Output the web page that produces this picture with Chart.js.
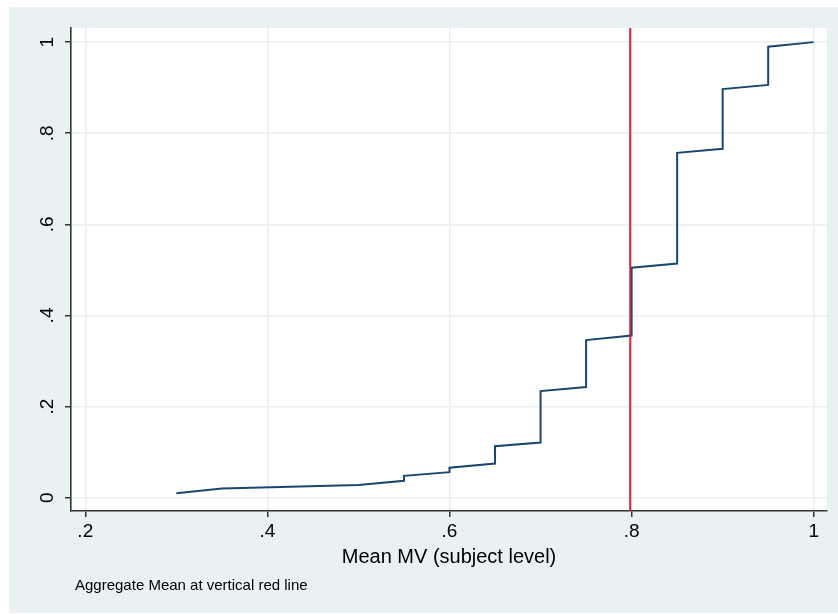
<!DOCTYPE html>
<html><head><meta charset="utf-8">
<script src="https://cdn.jsdelivr.net/npm/chart.js@4"></script>
<style>html,body{margin:0;padding:0;background:#fff}canvas{display:block}</style>
</head><body>
<canvas id="c" width="838" height="614"></canvas>
<script>
const mvValues  = [0.30,0.35,0.50,0.55,0.55,0.60,0.60,0.65,0.65,0.70,0.70,0.75,0.75,0.80,0.80,0.85,0.85,0.90,0.90,0.95,0.95,1.00];
const cumShare  = [0.010,0.020,0.028,0.037,0.048,0.056,0.066,0.075,0.113,0.121,0.234,0.243,0.346,0.356,0.505,0.514,0.757,0.766,0.897,0.906,0.990,1.000];
const aggregateMean = 0.7985;
const xTickValues = [0.2,0.4,0.6,0.8,1.0];
const xTickLabels = ['.2','.4','.6','.8','1'];
const yTickValues = [0,0.2,0.4,0.6,0.8,1.0];
const yTickLabels = ['0','.2','.4','.6','.8','1'];
const xTitle = 'Mean MV (subject level)';
const noteText = 'Aggregate Mean at vertical red line';
const xRange = [0.1843, 1.0146];
const yRange = [-0.0292, 1.031];

const FONT = '"Liberation Sans", Arial, Helvetica, sans-serif';
Chart.defaults.font.family = FONT;
Chart.defaults.color = '#000';

const frame = {
  id: 'frame',
  beforeDraw(chart) {
    const {ctx, chartArea: a} = chart;
    ctx.save();
    ctx.fillStyle = '#fff';
    ctx.fillRect(0, 0, chart.width, chart.height);
    ctx.fillStyle = '#eaf1f3';
    ctx.fillRect(9, 7, chart.width - 9, 606);
    ctx.fillStyle = '#fff';
    ctx.fillRect(a.left, a.top, a.right - a.left, a.bottom - a.top);
    ctx.restore();
  },
  afterDatasetsDraw(chart) {
    const {ctx, chartArea: a} = chart;
    const x = chart.scales.x.getPixelForValue(aggregateMean);
    ctx.save();
    ctx.strokeStyle = '#c8283f';
    ctx.lineWidth = 2;
    ctx.beginPath();
    ctx.moveTo(x, a.top);
    ctx.lineTo(x, a.bottom);
    ctx.stroke();
    ctx.restore();
  },
  afterDraw(chart) {
    const {ctx} = chart;
    const ys = chart.scales.y;
    ctx.save();
    ctx.fillStyle = '#000';
    ctx.font = '19px ' + FONT;
    ctx.textAlign = 'center';
    ctx.textBaseline = 'alphabetic';
    yTickValues.forEach((v, i) => {
      const y = ys.getPixelForValue(v);
      ctx.save();
      ctx.translate(52.5, y);
      ctx.rotate(-Math.PI / 2);
      ctx.fillText(yTickLabels[i], 0, 0);
      ctx.restore();
    });
    ctx.font = '15px ' + FONT;
    ctx.textAlign = 'left';
    ctx.fillText(noteText, 75, 590);
    ctx.restore();
  }
};

new Chart(document.getElementById('c'), {
  type: 'line',
  data: {
    datasets: [{
      data: mvValues.map((x, i) => ({x, y: cumShare[i]})),
      borderColor: '#1a476f',
      borderWidth: 2,
      pointRadius: 0,
      tension: 0,
      fill: false
    }]
  },
  options: {
    responsive: false,
    animation: false,
    devicePixelRatio: 1,
    layout: {padding: {left: 0, top: 28, right: 11, bottom: 42}},
    plugins: {legend: {display: false}, tooltip: {enabled: false}},
    scales: {
      x: {
        type: 'linear',
        min: xRange[0], max: xRange[1],
        afterBuildTicks: s => { s.ticks = xTickValues.map(v => ({value: v})); },
        afterFit: s => { s.height = 61; },
        ticks: {
          autoSkip: false, maxRotation: 0, padding: 3,
          font: {size: 19},
          color: '#000',
          callback: (v) => { const i = xTickValues.findIndex(t => Math.abs(t - v) < 1e-6); return i >= 0 ? xTickLabels[i] : ''; }
        },
        grid: {color: '#e9f0f2', lineWidth: 1.5, tickLength: 6, tickColor: '#333', tickWidth: 1.5, drawTicks: true},
        border: {display: true, color: '#333', width: 1.6},
        title: {display: true, text: xTitle, font: {size: 20}, color: '#000', padding: {top: 0, bottom: 3}}
      },
      y: {
        type: 'linear',
        min: yRange[0], max: yRange[1],
        afterBuildTicks: s => { s.ticks = yTickValues.map(v => ({value: v})); },
        afterFit: s => { s.width = 71; },
        ticks: {display: false},
        grid: {color: '#e9f0f2', lineWidth: 1.5, tickLength: 6, tickColor: '#333', tickWidth: 1.5, drawTicks: true},
        border: {display: true, color: '#333', width: 1.6}
      }
    }
  },
  plugins: [frame]
});
</script>
</body></html>
